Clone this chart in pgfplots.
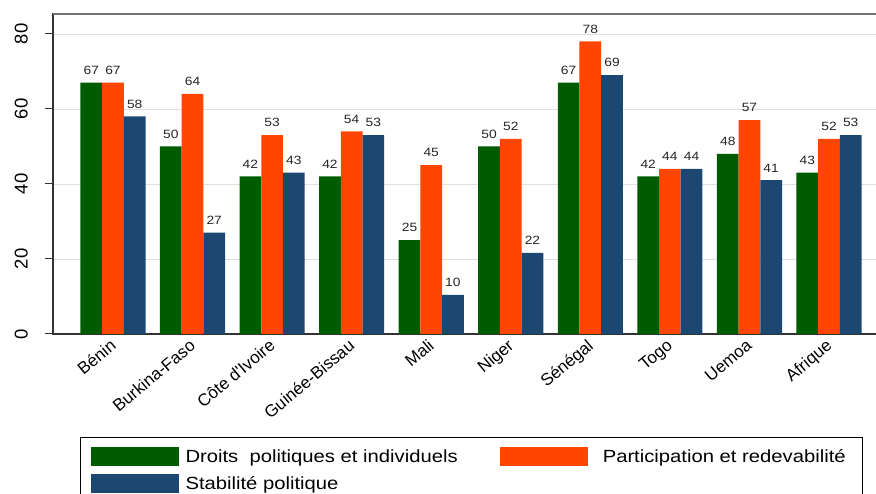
\documentclass[border=0pt]{standalone}
\usepackage{fontspec}
\setmainfont{Liberation Sans}[FakeStretch=1.15]
\newfontfamily\tickfont{Liberation Sans}
\usepackage{pgfplots}
\pgfplotsset{compat=1.18}

\definecolor{cgreen}{RGB}{0,92,0}
\definecolor{corange}{RGB}{255,69,0}
\definecolor{cblue}{RGB}{28,71,112}

\begin{document}
\begin{tikzpicture}
\useasboundingbox (-53pt,-160pt) rectangle (823pt,334pt);
\begin{axis}[
    at={(0pt,0pt)}, anchor=south west,
    scale only axis, width=836pt, height=320pt,
    xmin=-0.754, xmax=9.754, ymin=0, ymax=85.33,
    ybar=0pt, bar width=21.7pt,
    /pgf/number format/assume math mode=true,
    axis line style={line width=1.3pt, draw=black!80},
    xtick={0,...,9},
    xticklabels={Bénin, Burkina-Faso, Côte d\textquotesingle Ivoire, Guinée-Bissau, Mali, Niger, Sénégal, Togo, Uemoa, Afrique},
    x tick style={draw=none},
    xticklabel style={xshift=-4pt, rotate=40, anchor=north east, inner sep=0pt, font=\tickfont\fontsize{17}{20}\selectfont},
    xticklabel shift=-4pt,
    ytick={0,20,40,60,80},
    ytick pos=left,
    yticklabel style={rotate=90, anchor=south, inner sep=0pt, font=\tickfont\fontsize{18.5}{22}\selectfont},
    yticklabel shift=17pt,
    y tick style={line width=1pt, draw=black!80},
    tick align=outside, major tick length=8pt,
    ymajorgrids, grid style={line width=0.8pt, draw=black!12},
    nodes near coords={\pgfmathprintnumber[fixed,precision=0]{\pgfplotspointmeta}},
    every node near coord/.append style={font=\fontsize{12}{14}\selectfont, text=black!85, inner sep=0pt, yshift=8pt, anchor=south},
    legend columns=2,
    legend cell align=left,
    legend image code/.code={\fill[#1] (0pt,-9.5pt) rectangle (88pt,9.5pt);},
    legend style={at={(axis description cs:0.0323,-0.3219)}, anchor=north west,
        draw=black, line width=1pt, inner xsep=10pt, inner ysep=9pt,
        column sep=0pt, row sep=8pt,
        font=\fontsize{17.6}{21}\selectfont,
        nodes={inner xsep=7pt, inner ysep=0pt, text height=12.9pt, text depth=0pt},
        /tikz/column 2/.style={column sep=35pt},
        /tikz/column 3/.style={column sep=8pt}},
]
\addplot[fill=cgreen, draw=none] coordinates {
    (0,67) (1,50) (2,42) (3,42) (4,25) (5,50) (6,67) (7,42) (8,48) (9,43)};
\addlegendentry{Droits\ \ politiques et individuels}
\addplot[fill=corange, draw=none] coordinates {
    (0,67) (1,64) (2,53) (3,54) (4,45) (5,52) (6,78) (7,44) (8,57) (9,52)};
\addlegendentry{Participation et redevabilité}
\addplot[fill=cblue, draw=none] coordinates {
    (0,58) (1,27) (2,43) (3,53) (4,10.4) (5,21.6) (6,69) (7,44) (8,41) (9,53)};
\addlegendentry{Stabilité politique}
\draw[line width=1.3pt, draw=black!55] (rel axis cs:0,1) -- (rel axis cs:1,1);
\end{axis}
\end{tikzpicture}
\end{document}
